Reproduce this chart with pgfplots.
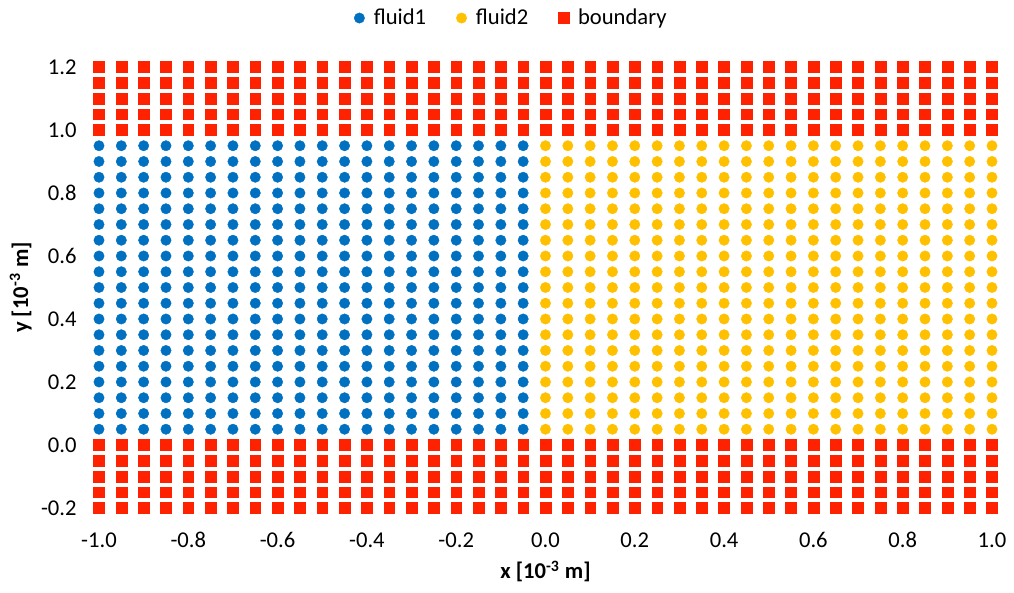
\documentclass[border=0pt]{standalone}
\usepackage{pgfplots}
\pgfplotsset{compat=1.18}
\usepackage{fontspec}
\setmainfont{Carlito}
\definecolor{fblue}{RGB}{0,112,192}
\definecolor{fyellow}{RGB}{255,192,0}
\definecolor{fred}{RGB}{255,34,0}
\begin{document}
\begin{tikzpicture}[font=\fontsize{11.3pt}{13.5pt}\selectfont]
\begin{axis}[
  scale only axis, width=446.5pt, height=220.5pt,
  xmin=-1, xmax=1, ymin=-0.2, ymax=1.2,
  clip=false,
  axis line style={draw=none},
  major tick length=0pt,
  xtick={-1,-0.8,-0.6,-0.4,-0.2,0,0.2,0.4,0.6,0.8,1},
  ytick={-0.2,0,0.2,0.4,0.6,0.8,1,1.2},
  /pgf/number format/fixed, /pgf/number format/fixed zerofill,
  /pgf/number format/precision=1, /pgf/number format/assume math mode=true,
  xticklabel style={anchor=center, inner sep=0pt, yshift=-16pt},
  yticklabel style={anchor=east, inner sep=0pt, xshift=-11pt},
  xlabel={\textbf{x [10\textsuperscript{-3} m]}},
  ylabel={\textbf{y [10\textsuperscript{-3} m]}},
  xlabel style={at={(axis description cs:0.5,-0.161)}, anchor=base},
  ylabel style={at={(axis description cs:-0.0795,0.5)}, anchor=base},
  legend style={at={(axis description cs:0.46,1.111)}, anchor=center, draw=none, fill=none,
    legend columns=3, /tikz/every even column/.append style={column sep=10.5pt}},
  legend image code/.code={\draw[#1] plot coordinates {(0.15cm,0cm)}; \path (0.15cm,0cm) ++(5pt,0pt) ++(-10pt,0pt);},
  legend cell align=left,
]
\addplot[only marks, mark=*, mark size=2.6pt, mark options={fill=fblue, draw=fblue, line width=0.2pt}] coordinates {
(-1,0.05)(-0.95,0.05)(-0.9,0.05)(-0.85,0.05)(-0.8,0.05)(-0.75,0.05)(-0.7,0.05)(-0.65,0.05)(-0.6,0.05)(-0.55,0.05)(-0.5,0.05)(-0.45,0.05)(-0.4,0.05)(-0.35,0.05)(-0.3,0.05)(-0.25,0.05)(-0.2,0.05)(-0.15,0.05)(-0.1,0.05)(-0.05,0.05)
(-1,0.1)(-0.95,0.1)(-0.9,0.1)(-0.85,0.1)(-0.8,0.1)(-0.75,0.1)(-0.7,0.1)(-0.65,0.1)(-0.6,0.1)(-0.55,0.1)(-0.5,0.1)(-0.45,0.1)(-0.4,0.1)(-0.35,0.1)(-0.3,0.1)(-0.25,0.1)(-0.2,0.1)(-0.15,0.1)(-0.1,0.1)(-0.05,0.1)
(-1,0.15)(-0.95,0.15)(-0.9,0.15)(-0.85,0.15)(-0.8,0.15)(-0.75,0.15)(-0.7,0.15)(-0.65,0.15)(-0.6,0.15)(-0.55,0.15)(-0.5,0.15)(-0.45,0.15)(-0.4,0.15)(-0.35,0.15)(-0.3,0.15)(-0.25,0.15)(-0.2,0.15)(-0.15,0.15)(-0.1,0.15)(-0.05,0.15)
(-1,0.2)(-0.95,0.2)(-0.9,0.2)(-0.85,0.2)(-0.8,0.2)(-0.75,0.2)(-0.7,0.2)(-0.65,0.2)(-0.6,0.2)(-0.55,0.2)(-0.5,0.2)(-0.45,0.2)(-0.4,0.2)(-0.35,0.2)(-0.3,0.2)(-0.25,0.2)(-0.2,0.2)(-0.15,0.2)(-0.1,0.2)(-0.05,0.2)
(-1,0.25)(-0.95,0.25)(-0.9,0.25)(-0.85,0.25)(-0.8,0.25)(-0.75,0.25)(-0.7,0.25)(-0.65,0.25)(-0.6,0.25)(-0.55,0.25)(-0.5,0.25)(-0.45,0.25)(-0.4,0.25)(-0.35,0.25)(-0.3,0.25)(-0.25,0.25)(-0.2,0.25)(-0.15,0.25)(-0.1,0.25)(-0.05,0.25)
(-1,0.3)(-0.95,0.3)(-0.9,0.3)(-0.85,0.3)(-0.8,0.3)(-0.75,0.3)(-0.7,0.3)(-0.65,0.3)(-0.6,0.3)(-0.55,0.3)(-0.5,0.3)(-0.45,0.3)(-0.4,0.3)(-0.35,0.3)(-0.3,0.3)(-0.25,0.3)(-0.2,0.3)(-0.15,0.3)(-0.1,0.3)(-0.05,0.3)
(-1,0.35)(-0.95,0.35)(-0.9,0.35)(-0.85,0.35)(-0.8,0.35)(-0.75,0.35)(-0.7,0.35)(-0.65,0.35)(-0.6,0.35)(-0.55,0.35)(-0.5,0.35)(-0.45,0.35)(-0.4,0.35)(-0.35,0.35)(-0.3,0.35)(-0.25,0.35)(-0.2,0.35)(-0.15,0.35)(-0.1,0.35)(-0.05,0.35)
(-1,0.4)(-0.95,0.4)(-0.9,0.4)(-0.85,0.4)(-0.8,0.4)(-0.75,0.4)(-0.7,0.4)(-0.65,0.4)(-0.6,0.4)(-0.55,0.4)(-0.5,0.4)(-0.45,0.4)(-0.4,0.4)(-0.35,0.4)(-0.3,0.4)(-0.25,0.4)(-0.2,0.4)(-0.15,0.4)(-0.1,0.4)(-0.05,0.4)
(-1,0.45)(-0.95,0.45)(-0.9,0.45)(-0.85,0.45)(-0.8,0.45)(-0.75,0.45)(-0.7,0.45)(-0.65,0.45)(-0.6,0.45)(-0.55,0.45)(-0.5,0.45)(-0.45,0.45)(-0.4,0.45)(-0.35,0.45)(-0.3,0.45)(-0.25,0.45)(-0.2,0.45)(-0.15,0.45)(-0.1,0.45)(-0.05,0.45)
(-1,0.5)(-0.95,0.5)(-0.9,0.5)(-0.85,0.5)(-0.8,0.5)(-0.75,0.5)(-0.7,0.5)(-0.65,0.5)(-0.6,0.5)(-0.55,0.5)(-0.5,0.5)(-0.45,0.5)(-0.4,0.5)(-0.35,0.5)(-0.3,0.5)(-0.25,0.5)(-0.2,0.5)(-0.15,0.5)(-0.1,0.5)(-0.05,0.5)
(-1,0.55)(-0.95,0.55)(-0.9,0.55)(-0.85,0.55)(-0.8,0.55)(-0.75,0.55)(-0.7,0.55)(-0.65,0.55)(-0.6,0.55)(-0.55,0.55)(-0.5,0.55)(-0.45,0.55)(-0.4,0.55)(-0.35,0.55)(-0.3,0.55)(-0.25,0.55)(-0.2,0.55)(-0.15,0.55)(-0.1,0.55)(-0.05,0.55)
(-1,0.6)(-0.95,0.6)(-0.9,0.6)(-0.85,0.6)(-0.8,0.6)(-0.75,0.6)(-0.7,0.6)(-0.65,0.6)(-0.6,0.6)(-0.55,0.6)(-0.5,0.6)(-0.45,0.6)(-0.4,0.6)(-0.35,0.6)(-0.3,0.6)(-0.25,0.6)(-0.2,0.6)(-0.15,0.6)(-0.1,0.6)(-0.05,0.6)
(-1,0.65)(-0.95,0.65)(-0.9,0.65)(-0.85,0.65)(-0.8,0.65)(-0.75,0.65)(-0.7,0.65)(-0.65,0.65)(-0.6,0.65)(-0.55,0.65)(-0.5,0.65)(-0.45,0.65)(-0.4,0.65)(-0.35,0.65)(-0.3,0.65)(-0.25,0.65)(-0.2,0.65)(-0.15,0.65)(-0.1,0.65)(-0.05,0.65)
(-1,0.7)(-0.95,0.7)(-0.9,0.7)(-0.85,0.7)(-0.8,0.7)(-0.75,0.7)(-0.7,0.7)(-0.65,0.7)(-0.6,0.7)(-0.55,0.7)(-0.5,0.7)(-0.45,0.7)(-0.4,0.7)(-0.35,0.7)(-0.3,0.7)(-0.25,0.7)(-0.2,0.7)(-0.15,0.7)(-0.1,0.7)(-0.05,0.7)
(-1,0.75)(-0.95,0.75)(-0.9,0.75)(-0.85,0.75)(-0.8,0.75)(-0.75,0.75)(-0.7,0.75)(-0.65,0.75)(-0.6,0.75)(-0.55,0.75)(-0.5,0.75)(-0.45,0.75)(-0.4,0.75)(-0.35,0.75)(-0.3,0.75)(-0.25,0.75)(-0.2,0.75)(-0.15,0.75)(-0.1,0.75)(-0.05,0.75)
(-1,0.8)(-0.95,0.8)(-0.9,0.8)(-0.85,0.8)(-0.8,0.8)(-0.75,0.8)(-0.7,0.8)(-0.65,0.8)(-0.6,0.8)(-0.55,0.8)(-0.5,0.8)(-0.45,0.8)(-0.4,0.8)(-0.35,0.8)(-0.3,0.8)(-0.25,0.8)(-0.2,0.8)(-0.15,0.8)(-0.1,0.8)(-0.05,0.8)
(-1,0.85)(-0.95,0.85)(-0.9,0.85)(-0.85,0.85)(-0.8,0.85)(-0.75,0.85)(-0.7,0.85)(-0.65,0.85)(-0.6,0.85)(-0.55,0.85)(-0.5,0.85)(-0.45,0.85)(-0.4,0.85)(-0.35,0.85)(-0.3,0.85)(-0.25,0.85)(-0.2,0.85)(-0.15,0.85)(-0.1,0.85)(-0.05,0.85)
(-1,0.9)(-0.95,0.9)(-0.9,0.9)(-0.85,0.9)(-0.8,0.9)(-0.75,0.9)(-0.7,0.9)(-0.65,0.9)(-0.6,0.9)(-0.55,0.9)(-0.5,0.9)(-0.45,0.9)(-0.4,0.9)(-0.35,0.9)(-0.3,0.9)(-0.25,0.9)(-0.2,0.9)(-0.15,0.9)(-0.1,0.9)(-0.05,0.9)
(-1,0.95)(-0.95,0.95)(-0.9,0.95)(-0.85,0.95)(-0.8,0.95)(-0.75,0.95)(-0.7,0.95)(-0.65,0.95)(-0.6,0.95)(-0.55,0.95)(-0.5,0.95)(-0.45,0.95)(-0.4,0.95)(-0.35,0.95)(-0.3,0.95)(-0.25,0.95)(-0.2,0.95)(-0.15,0.95)(-0.1,0.95)(-0.05,0.95)
};
\addlegendentry{fluid1}
\addplot[only marks, mark=*, mark size=2.6pt, mark options={fill=fyellow, draw=fyellow, line width=0.2pt}] coordinates {
(0,0.05)(0.05,0.05)(0.1,0.05)(0.15,0.05)(0.2,0.05)(0.25,0.05)(0.3,0.05)(0.35,0.05)(0.4,0.05)(0.45,0.05)(0.5,0.05)(0.55,0.05)(0.6,0.05)(0.65,0.05)(0.7,0.05)(0.75,0.05)(0.8,0.05)(0.85,0.05)(0.9,0.05)(0.95,0.05)(1,0.05)
(0,0.1)(0.05,0.1)(0.1,0.1)(0.15,0.1)(0.2,0.1)(0.25,0.1)(0.3,0.1)(0.35,0.1)(0.4,0.1)(0.45,0.1)(0.5,0.1)(0.55,0.1)(0.6,0.1)(0.65,0.1)(0.7,0.1)(0.75,0.1)(0.8,0.1)(0.85,0.1)(0.9,0.1)(0.95,0.1)(1,0.1)
(0,0.15)(0.05,0.15)(0.1,0.15)(0.15,0.15)(0.2,0.15)(0.25,0.15)(0.3,0.15)(0.35,0.15)(0.4,0.15)(0.45,0.15)(0.5,0.15)(0.55,0.15)(0.6,0.15)(0.65,0.15)(0.7,0.15)(0.75,0.15)(0.8,0.15)(0.85,0.15)(0.9,0.15)(0.95,0.15)(1,0.15)
(0,0.2)(0.05,0.2)(0.1,0.2)(0.15,0.2)(0.2,0.2)(0.25,0.2)(0.3,0.2)(0.35,0.2)(0.4,0.2)(0.45,0.2)(0.5,0.2)(0.55,0.2)(0.6,0.2)(0.65,0.2)(0.7,0.2)(0.75,0.2)(0.8,0.2)(0.85,0.2)(0.9,0.2)(0.95,0.2)(1,0.2)
(0,0.25)(0.05,0.25)(0.1,0.25)(0.15,0.25)(0.2,0.25)(0.25,0.25)(0.3,0.25)(0.35,0.25)(0.4,0.25)(0.45,0.25)(0.5,0.25)(0.55,0.25)(0.6,0.25)(0.65,0.25)(0.7,0.25)(0.75,0.25)(0.8,0.25)(0.85,0.25)(0.9,0.25)(0.95,0.25)(1,0.25)
(0,0.3)(0.05,0.3)(0.1,0.3)(0.15,0.3)(0.2,0.3)(0.25,0.3)(0.3,0.3)(0.35,0.3)(0.4,0.3)(0.45,0.3)(0.5,0.3)(0.55,0.3)(0.6,0.3)(0.65,0.3)(0.7,0.3)(0.75,0.3)(0.8,0.3)(0.85,0.3)(0.9,0.3)(0.95,0.3)(1,0.3)
(0,0.35)(0.05,0.35)(0.1,0.35)(0.15,0.35)(0.2,0.35)(0.25,0.35)(0.3,0.35)(0.35,0.35)(0.4,0.35)(0.45,0.35)(0.5,0.35)(0.55,0.35)(0.6,0.35)(0.65,0.35)(0.7,0.35)(0.75,0.35)(0.8,0.35)(0.85,0.35)(0.9,0.35)(0.95,0.35)(1,0.35)
(0,0.4)(0.05,0.4)(0.1,0.4)(0.15,0.4)(0.2,0.4)(0.25,0.4)(0.3,0.4)(0.35,0.4)(0.4,0.4)(0.45,0.4)(0.5,0.4)(0.55,0.4)(0.6,0.4)(0.65,0.4)(0.7,0.4)(0.75,0.4)(0.8,0.4)(0.85,0.4)(0.9,0.4)(0.95,0.4)(1,0.4)
(0,0.45)(0.05,0.45)(0.1,0.45)(0.15,0.45)(0.2,0.45)(0.25,0.45)(0.3,0.45)(0.35,0.45)(0.4,0.45)(0.45,0.45)(0.5,0.45)(0.55,0.45)(0.6,0.45)(0.65,0.45)(0.7,0.45)(0.75,0.45)(0.8,0.45)(0.85,0.45)(0.9,0.45)(0.95,0.45)(1,0.45)
(0,0.5)(0.05,0.5)(0.1,0.5)(0.15,0.5)(0.2,0.5)(0.25,0.5)(0.3,0.5)(0.35,0.5)(0.4,0.5)(0.45,0.5)(0.5,0.5)(0.55,0.5)(0.6,0.5)(0.65,0.5)(0.7,0.5)(0.75,0.5)(0.8,0.5)(0.85,0.5)(0.9,0.5)(0.95,0.5)(1,0.5)
(0,0.55)(0.05,0.55)(0.1,0.55)(0.15,0.55)(0.2,0.55)(0.25,0.55)(0.3,0.55)(0.35,0.55)(0.4,0.55)(0.45,0.55)(0.5,0.55)(0.55,0.55)(0.6,0.55)(0.65,0.55)(0.7,0.55)(0.75,0.55)(0.8,0.55)(0.85,0.55)(0.9,0.55)(0.95,0.55)(1,0.55)
(0,0.6)(0.05,0.6)(0.1,0.6)(0.15,0.6)(0.2,0.6)(0.25,0.6)(0.3,0.6)(0.35,0.6)(0.4,0.6)(0.45,0.6)(0.5,0.6)(0.55,0.6)(0.6,0.6)(0.65,0.6)(0.7,0.6)(0.75,0.6)(0.8,0.6)(0.85,0.6)(0.9,0.6)(0.95,0.6)(1,0.6)
(0,0.65)(0.05,0.65)(0.1,0.65)(0.15,0.65)(0.2,0.65)(0.25,0.65)(0.3,0.65)(0.35,0.65)(0.4,0.65)(0.45,0.65)(0.5,0.65)(0.55,0.65)(0.6,0.65)(0.65,0.65)(0.7,0.65)(0.75,0.65)(0.8,0.65)(0.85,0.65)(0.9,0.65)(0.95,0.65)(1,0.65)
(0,0.7)(0.05,0.7)(0.1,0.7)(0.15,0.7)(0.2,0.7)(0.25,0.7)(0.3,0.7)(0.35,0.7)(0.4,0.7)(0.45,0.7)(0.5,0.7)(0.55,0.7)(0.6,0.7)(0.65,0.7)(0.7,0.7)(0.75,0.7)(0.8,0.7)(0.85,0.7)(0.9,0.7)(0.95,0.7)(1,0.7)
(0,0.75)(0.05,0.75)(0.1,0.75)(0.15,0.75)(0.2,0.75)(0.25,0.75)(0.3,0.75)(0.35,0.75)(0.4,0.75)(0.45,0.75)(0.5,0.75)(0.55,0.75)(0.6,0.75)(0.65,0.75)(0.7,0.75)(0.75,0.75)(0.8,0.75)(0.85,0.75)(0.9,0.75)(0.95,0.75)(1,0.75)
(0,0.8)(0.05,0.8)(0.1,0.8)(0.15,0.8)(0.2,0.8)(0.25,0.8)(0.3,0.8)(0.35,0.8)(0.4,0.8)(0.45,0.8)(0.5,0.8)(0.55,0.8)(0.6,0.8)(0.65,0.8)(0.7,0.8)(0.75,0.8)(0.8,0.8)(0.85,0.8)(0.9,0.8)(0.95,0.8)(1,0.8)
(0,0.85)(0.05,0.85)(0.1,0.85)(0.15,0.85)(0.2,0.85)(0.25,0.85)(0.3,0.85)(0.35,0.85)(0.4,0.85)(0.45,0.85)(0.5,0.85)(0.55,0.85)(0.6,0.85)(0.65,0.85)(0.7,0.85)(0.75,0.85)(0.8,0.85)(0.85,0.85)(0.9,0.85)(0.95,0.85)(1,0.85)
(0,0.9)(0.05,0.9)(0.1,0.9)(0.15,0.9)(0.2,0.9)(0.25,0.9)(0.3,0.9)(0.35,0.9)(0.4,0.9)(0.45,0.9)(0.5,0.9)(0.55,0.9)(0.6,0.9)(0.65,0.9)(0.7,0.9)(0.75,0.9)(0.8,0.9)(0.85,0.9)(0.9,0.9)(0.95,0.9)(1,0.9)
(0,0.95)(0.05,0.95)(0.1,0.95)(0.15,0.95)(0.2,0.95)(0.25,0.95)(0.3,0.95)(0.35,0.95)(0.4,0.95)(0.45,0.95)(0.5,0.95)(0.55,0.95)(0.6,0.95)(0.65,0.95)(0.7,0.95)(0.75,0.95)(0.8,0.95)(0.85,0.95)(0.9,0.95)(0.95,0.95)(1,0.95)
};
\addlegendentry{fluid2}
\addplot[only marks, mark=square*, mark size=2.7pt, mark options={fill=fred, draw=fred, line width=0.2pt}] coordinates {
(-1,-0.2)(-0.95,-0.2)(-0.9,-0.2)(-0.85,-0.2)(-0.8,-0.2)(-0.75,-0.2)(-0.7,-0.2)(-0.65,-0.2)(-0.6,-0.2)(-0.55,-0.2)(-0.5,-0.2)(-0.45,-0.2)(-0.4,-0.2)(-0.35,-0.2)(-0.3,-0.2)(-0.25,-0.2)(-0.2,-0.2)(-0.15,-0.2)(-0.1,-0.2)(-0.05,-0.2)(0,-0.2)(0.05,-0.2)(0.1,-0.2)(0.15,-0.2)(0.2,-0.2)(0.25,-0.2)(0.3,-0.2)(0.35,-0.2)(0.4,-0.2)(0.45,-0.2)(0.5,-0.2)(0.55,-0.2)(0.6,-0.2)(0.65,-0.2)(0.7,-0.2)(0.75,-0.2)(0.8,-0.2)(0.85,-0.2)(0.9,-0.2)(0.95,-0.2)(1,-0.2)
(-1,-0.15)(-0.95,-0.15)(-0.9,-0.15)(-0.85,-0.15)(-0.8,-0.15)(-0.75,-0.15)(-0.7,-0.15)(-0.65,-0.15)(-0.6,-0.15)(-0.55,-0.15)(-0.5,-0.15)(-0.45,-0.15)(-0.4,-0.15)(-0.35,-0.15)(-0.3,-0.15)(-0.25,-0.15)(-0.2,-0.15)(-0.15,-0.15)(-0.1,-0.15)(-0.05,-0.15)(0,-0.15)(0.05,-0.15)(0.1,-0.15)(0.15,-0.15)(0.2,-0.15)(0.25,-0.15)(0.3,-0.15)(0.35,-0.15)(0.4,-0.15)(0.45,-0.15)(0.5,-0.15)(0.55,-0.15)(0.6,-0.15)(0.65,-0.15)(0.7,-0.15)(0.75,-0.15)(0.8,-0.15)(0.85,-0.15)(0.9,-0.15)(0.95,-0.15)(1,-0.15)
(-1,-0.1)(-0.95,-0.1)(-0.9,-0.1)(-0.85,-0.1)(-0.8,-0.1)(-0.75,-0.1)(-0.7,-0.1)(-0.65,-0.1)(-0.6,-0.1)(-0.55,-0.1)(-0.5,-0.1)(-0.45,-0.1)(-0.4,-0.1)(-0.35,-0.1)(-0.3,-0.1)(-0.25,-0.1)(-0.2,-0.1)(-0.15,-0.1)(-0.1,-0.1)(-0.05,-0.1)(0,-0.1)(0.05,-0.1)(0.1,-0.1)(0.15,-0.1)(0.2,-0.1)(0.25,-0.1)(0.3,-0.1)(0.35,-0.1)(0.4,-0.1)(0.45,-0.1)(0.5,-0.1)(0.55,-0.1)(0.6,-0.1)(0.65,-0.1)(0.7,-0.1)(0.75,-0.1)(0.8,-0.1)(0.85,-0.1)(0.9,-0.1)(0.95,-0.1)(1,-0.1)
(-1,-0.05)(-0.95,-0.05)(-0.9,-0.05)(-0.85,-0.05)(-0.8,-0.05)(-0.75,-0.05)(-0.7,-0.05)(-0.65,-0.05)(-0.6,-0.05)(-0.55,-0.05)(-0.5,-0.05)(-0.45,-0.05)(-0.4,-0.05)(-0.35,-0.05)(-0.3,-0.05)(-0.25,-0.05)(-0.2,-0.05)(-0.15,-0.05)(-0.1,-0.05)(-0.05,-0.05)(0,-0.05)(0.05,-0.05)(0.1,-0.05)(0.15,-0.05)(0.2,-0.05)(0.25,-0.05)(0.3,-0.05)(0.35,-0.05)(0.4,-0.05)(0.45,-0.05)(0.5,-0.05)(0.55,-0.05)(0.6,-0.05)(0.65,-0.05)(0.7,-0.05)(0.75,-0.05)(0.8,-0.05)(0.85,-0.05)(0.9,-0.05)(0.95,-0.05)(1,-0.05)
(-1,0)(-0.95,0)(-0.9,0)(-0.85,0)(-0.8,0)(-0.75,0)(-0.7,0)(-0.65,0)(-0.6,0)(-0.55,0)(-0.5,0)(-0.45,0)(-0.4,0)(-0.35,0)(-0.3,0)(-0.25,0)(-0.2,0)(-0.15,0)(-0.1,0)(-0.05,0)(0,0)(0.05,0)(0.1,0)(0.15,0)(0.2,0)(0.25,0)(0.3,0)(0.35,0)(0.4,0)(0.45,0)(0.5,0)(0.55,0)(0.6,0)(0.65,0)(0.7,0)(0.75,0)(0.8,0)(0.85,0)(0.9,0)(0.95,0)(1,0)
(-1,1)(-0.95,1)(-0.9,1)(-0.85,1)(-0.8,1)(-0.75,1)(-0.7,1)(-0.65,1)(-0.6,1)(-0.55,1)(-0.5,1)(-0.45,1)(-0.4,1)(-0.35,1)(-0.3,1)(-0.25,1)(-0.2,1)(-0.15,1)(-0.1,1)(-0.05,1)(0,1)(0.05,1)(0.1,1)(0.15,1)(0.2,1)(0.25,1)(0.3,1)(0.35,1)(0.4,1)(0.45,1)(0.5,1)(0.55,1)(0.6,1)(0.65,1)(0.7,1)(0.75,1)(0.8,1)(0.85,1)(0.9,1)(0.95,1)(1,1)
(-1,1.05)(-0.95,1.05)(-0.9,1.05)(-0.85,1.05)(-0.8,1.05)(-0.75,1.05)(-0.7,1.05)(-0.65,1.05)(-0.6,1.05)(-0.55,1.05)(-0.5,1.05)(-0.45,1.05)(-0.4,1.05)(-0.35,1.05)(-0.3,1.05)(-0.25,1.05)(-0.2,1.05)(-0.15,1.05)(-0.1,1.05)(-0.05,1.05)(0,1.05)(0.05,1.05)(0.1,1.05)(0.15,1.05)(0.2,1.05)(0.25,1.05)(0.3,1.05)(0.35,1.05)(0.4,1.05)(0.45,1.05)(0.5,1.05)(0.55,1.05)(0.6,1.05)(0.65,1.05)(0.7,1.05)(0.75,1.05)(0.8,1.05)(0.85,1.05)(0.9,1.05)(0.95,1.05)(1,1.05)
(-1,1.1)(-0.95,1.1)(-0.9,1.1)(-0.85,1.1)(-0.8,1.1)(-0.75,1.1)(-0.7,1.1)(-0.65,1.1)(-0.6,1.1)(-0.55,1.1)(-0.5,1.1)(-0.45,1.1)(-0.4,1.1)(-0.35,1.1)(-0.3,1.1)(-0.25,1.1)(-0.2,1.1)(-0.15,1.1)(-0.1,1.1)(-0.05,1.1)(0,1.1)(0.05,1.1)(0.1,1.1)(0.15,1.1)(0.2,1.1)(0.25,1.1)(0.3,1.1)(0.35,1.1)(0.4,1.1)(0.45,1.1)(0.5,1.1)(0.55,1.1)(0.6,1.1)(0.65,1.1)(0.7,1.1)(0.75,1.1)(0.8,1.1)(0.85,1.1)(0.9,1.1)(0.95,1.1)(1,1.1)
(-1,1.15)(-0.95,1.15)(-0.9,1.15)(-0.85,1.15)(-0.8,1.15)(-0.75,1.15)(-0.7,1.15)(-0.65,1.15)(-0.6,1.15)(-0.55,1.15)(-0.5,1.15)(-0.45,1.15)(-0.4,1.15)(-0.35,1.15)(-0.3,1.15)(-0.25,1.15)(-0.2,1.15)(-0.15,1.15)(-0.1,1.15)(-0.05,1.15)(0,1.15)(0.05,1.15)(0.1,1.15)(0.15,1.15)(0.2,1.15)(0.25,1.15)(0.3,1.15)(0.35,1.15)(0.4,1.15)(0.45,1.15)(0.5,1.15)(0.55,1.15)(0.6,1.15)(0.65,1.15)(0.7,1.15)(0.75,1.15)(0.8,1.15)(0.85,1.15)(0.9,1.15)(0.95,1.15)(1,1.15)
(-1,1.2)(-0.95,1.2)(-0.9,1.2)(-0.85,1.2)(-0.8,1.2)(-0.75,1.2)(-0.7,1.2)(-0.65,1.2)(-0.6,1.2)(-0.55,1.2)(-0.5,1.2)(-0.45,1.2)(-0.4,1.2)(-0.35,1.2)(-0.3,1.2)(-0.25,1.2)(-0.2,1.2)(-0.15,1.2)(-0.1,1.2)(-0.05,1.2)(0,1.2)(0.05,1.2)(0.1,1.2)(0.15,1.2)(0.2,1.2)(0.25,1.2)(0.3,1.2)(0.35,1.2)(0.4,1.2)(0.45,1.2)(0.5,1.2)(0.55,1.2)(0.6,1.2)(0.65,1.2)(0.7,1.2)(0.75,1.2)(0.8,1.2)(0.85,1.2)(0.9,1.2)(0.95,1.2)(1,1.2)
};
\addlegendentry{boundary}
\end{axis}
\pgfresetboundingbox
\path (-49.5pt,-42.5pt) rectangle (457.5pt,254pt);
\end{tikzpicture}
\end{document}
